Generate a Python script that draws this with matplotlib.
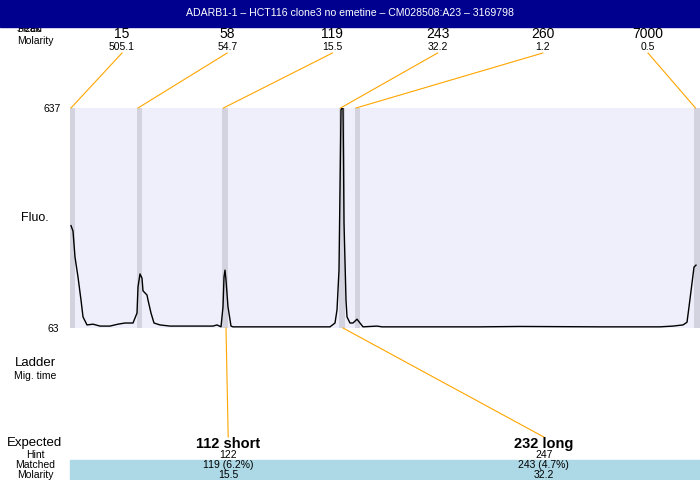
import numpy as np
import matplotlib
matplotlib.use("Agg")
import matplotlib.pyplot as plt
from matplotlib.patches import Rectangle

plt.rcParams['font.family'] = ['Liberation Sans', 'DejaVu Sans']

title = "ADARB1-1 \u2013 HCT116 clone3 no emetine \u2013 CM028508:A23 \u2013 3169798"

# ladder / peak table
peak_sizes = ["15", "58", "119", "243", "260", "7000"]
peak_molarity = ["505.1", "54.7", "15.5", "32.2", "1.2", "0.5"]
peak_pos = [72.5, 139.5, 225.0, 342.0, 357.5, 697.0]   # migration position (plot units)
band_w = 5.5

# electropherogram trace (position, fluorescence)
trace_x = [71, 73, 75, 78, 81, 83, 87, 93, 100, 110, 118, 125, 133, 137, 138, 140,
           142, 143, 147, 148, 151, 154, 160, 170, 213, 217, 221, 223, 224, 225,
           226, 228, 231, 233, 300, 330, 335, 337, 339, 340, 341, 342, 343, 343.5,
           344, 346, 347, 350, 353, 357, 360, 363, 377, 382, 480, 520, 600, 640,
           650, 660, 673, 683, 687, 689, 692, 694, 696]
trace_y = [330, 316, 248, 196, 136, 92, 71, 73, 68, 68, 73, 76, 76, 102, 170, 204,
           193, 160, 149, 136, 102, 76, 71, 68, 68, 71, 66, 118, 196, 214,
           188, 118, 68, 66, 66, 66, 76, 110, 214, 423, 632, 637, 637, 509,
           337, 136, 92, 76, 76, 86, 76, 66, 68, 66, 66, 67, 66, 66,
           66, 66, 68, 71, 78, 118, 180, 222, 227]
y_min, y_max = 63, 637

# expected fragments
exp_names = ["112 short", "232 long"]
exp_hint = ["122", "247"]
exp_matched = ["119 (6.2%)", "243 (4.7%)"]
exp_molarity = ["15.5", "32.2"]
exp_peak = [225.0, 342.0]
exp_slot = [1, 4]

W, H = 700, 480
fig = plt.figure(figsize=(7, 4.8), dpi=100)

# trace axes
ax = fig.add_axes([70 / W, (H - 328) / H, 630 / W, 220 / H])
ax.set_facecolor("#efeffb")
for p in peak_pos:
    ax.axvspan(p - band_w / 2, p + band_w / 2, color="#d3d3df", lw=0, zorder=1)
ax.plot(trace_x, trace_y, color="black", lw=1.0, zorder=3)
ax.set_xlim(70, 700)
ax.set_ylim(y_min, y_max)
ax.set_xticks([])
ax.set_yticks([])
for sp in ax.spines.values():
    sp.set_visible(False)

# overlay in pixel coordinates
ov = fig.add_axes([0, 0, 1, 1], zorder=5)
ov.set_xlim(0, W)
ov.set_ylim(H, 0)
ov.axis("off")
ov.patch.set_alpha(0)

ov.add_patch(Rectangle((0, 0), W, 27, color="#00008f", zorder=3))
ov.text(350, 13, title, color="white", fontsize=7.6, ha="center", va="center", zorder=4)

ov.text(17, 28.5, "Peak", fontsize=7.5, ha="left", va="center", zorder=2)
ov.text(17, 28.5, "Sized", fontsize=7.5, ha="left", va="center", zorder=2)
ov.text(17, 41, "Molarity", fontsize=7.5, ha="left", va="center")

slots = np.linspace(122, 648, len(peak_sizes))
orange = "#ffa500"
for sx, s, m, p in zip(slots, peak_sizes, peak_molarity, peak_pos):
    ov.text(sx, 34, s, fontsize=10, ha="center", va="center")
    ov.text(sx, 47, m, fontsize=7.5, ha="center", va="center")
    ov.plot([sx, p - 1.5], [53, 108], color=orange, lw=0.8)

ov.text(61, 109, str(y_max), fontsize=7.5, ha="right", va="center")
ov.text(59, 329, str(y_min), fontsize=7.5, ha="right", va="center")
ov.text(35, 218, "Fluo.", fontsize=9, ha="center", va="center")

ov.text(35, 363, "Ladder", fontsize=9.5, ha="center", va="center")
ov.text(35, 376, "Mig. time", fontsize=7.5, ha="center", va="center")

ov.text(35, 443, "Expected", fontsize=9.5, ha="center", va="center")
ov.text(35, 455, "Hint", fontsize=7.5, ha="center", va="center")
ov.text(35, 465.5, "Matched", fontsize=7.5, ha="center", va="center")
ov.text(35, 475, "Molarity", fontsize=7.5, ha="center", va="center")

ov.add_patch(Rectangle((70, 460), 630, 20, color="#add8e6", zorder=1))
for name, hint, mt, mol, p, k in zip(exp_names, exp_hint, exp_matched,
                                    exp_molarity, exp_peak, exp_slot):
    sx = slots[k] + 1
    ov.plot([p + 1, sx], [328, 437], color=orange, lw=0.8)
    ov.text(sx, 444, name, fontsize=10.5, fontweight="bold", ha="center", va="center")
    ov.text(sx, 455, hint, fontsize=7.5, ha="center", va="center")
    ov.text(sx, 465.5, mt, fontsize=7.5, ha="center", va="center", zorder=3)
    ov.text(sx, 475, mol, fontsize=7.5, ha="center", va="center", zorder=3)

fig.savefig("out.png", dpi=100)
